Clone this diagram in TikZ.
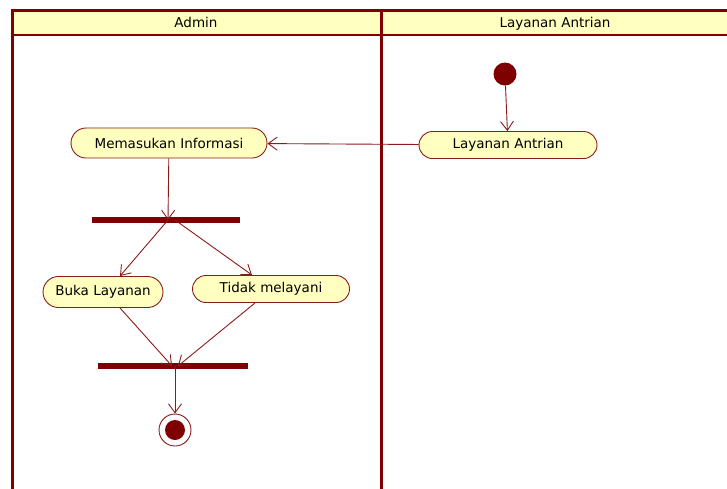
\documentclass[tikz,border=0pt]{standalone}
\usepackage{fontspec}
\setmainfont{DejaVu Sans}
\usetikzlibrary{positioning}
\usetikzlibrary{arrows.meta}
\usetikzlibrary{shapes.misc}
\definecolor{umlred}{HTML}{7F0000}
\definecolor{umlline}{HTML}{8B1A1A}
\definecolor{umlfill}{HTML}{FFFFC0}

\begin{document}
\begin{tikzpicture}
    [
      x = 1pt, y = -1pt,
      font = \fontsize{13.5}{15}\selectfont,
      action/.style = {draw=umlline, fill=umlfill, rounded rectangle, line width=0.9pt, inner sep=2pt},
      bar/.style = {fill=umlred, minimum height=6pt, inner sep=0pt},
      flow/.style = {draw=umlline, line width=0.9pt, -{Straight Barb[length=9pt,width=13pt]}},
      lane/.style = {draw=umlred, line width=3pt},
      header/.style = {anchor=base, inner sep=0pt},
    ]

    \useasboundingbox (0,0) rectangle (727,488);

    % swimlanes
    \fill[umlfill] (12,10) rectangle (740,35);
    \draw[umlred, line width=2pt] (12,35) -- (740,35);
    \draw[lane] (10.5,10) -- (740,10);
    \draw[lane] (12,8.5) -- (12,495);
    \draw[lane] (381,8.5) -- (381,495);
    \node[header] (laneAdmin) at (196,27) {Admin};
    \node[header] (laneLayanan) at (555,27) {Layanan Antrian};

    % nodes
    \node[circle, fill=umlred, minimum size=23pt, inner sep=0pt] (start) at (505,74) {};
    \node[action, minimum width=182pt, minimum height=27pt] (layanan) at (508,145) {Layanan Antrian};
    \node[action, minimum width=200pt, minimum height=30pt] (informasi) at (169,143) {Memasukan Informasi};
    \node[bar, minimum width=148pt] (fork) at (166,220) {};
    \node[action, minimum width=124pt, minimum height=31pt] (buka) at (103,292) {Buka Layanan};
    \node[action, minimum width=161pt, minimum height=27pt] (tidak) at (271,289) {Tidak melayani};
    \node[bar, minimum width=150pt] (join) at (173,366) {};
    \node[circle, draw=umlline, fill=white, line width=0.9pt, minimum size=32pt, inner sep=0pt] (final) at (175,430) {};
    \node[circle, fill=umlred, minimum size=20pt, inner sep=0pt] (finalDot) at (final.center) {};

    % flows
    \draw[flow] (start) -- (layanan);
    \draw[flow] (layanan) -- (informasi);
    \draw[flow] (informasi) -- ([xshift=2pt]fork.center);
    \draw[flow] ([xshift=2pt]fork.center) -- ([xshift=17pt]buka.north);
    \draw[flow] ([xshift=9pt]fork.center) -- ([xshift=-19pt]tidak.north);
    \draw[flow] ([xshift=17pt]buka.south) -- ([xshift=-1pt]join.center);
    \draw[flow] ([xshift=-16pt]tidak.south) -- ([xshift=5pt]join.center);
    \draw[flow] ([xshift=2pt]join.center) -- (final);

  \end{tikzpicture}
\end{document}
